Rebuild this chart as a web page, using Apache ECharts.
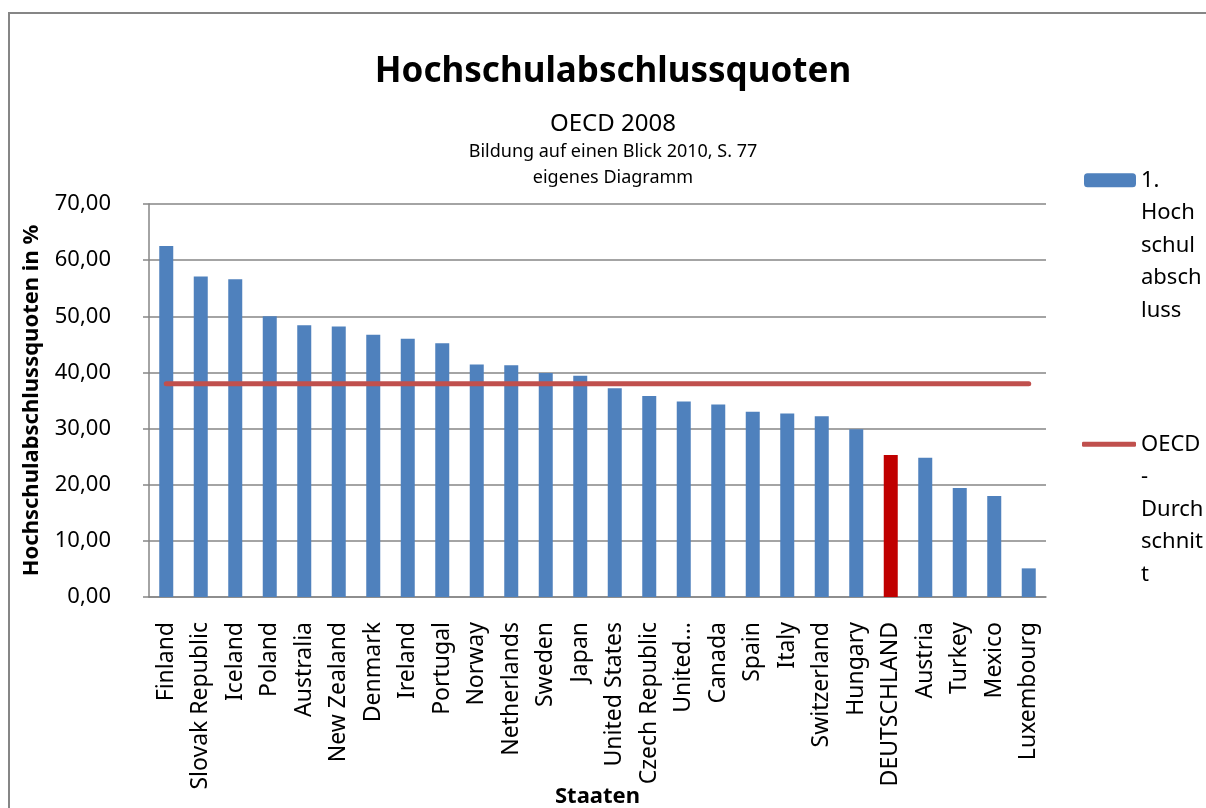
<!DOCTYPE html>
<html>
<head>
<meta charset="utf-8">
<script src="https://cdn.jsdelivr.net/npm/echarts@6/dist/echarts.min.js"></script>
<style>
  body { margin: 0; background: #fff; }
  #chart { position: absolute; left: 0; top: 0; width: 1206px; height: 808px; }
  #frame {
    position: absolute; left: 8px; top: 12px; width: 1198px; height: 796px;
    border-left: 2px solid #868686; border-top: 2px solid #868686;
    box-sizing: border-box; pointer-events: none;
  }
</style>
</head>
<body>
<div id="chart"></div>
<div id="frame"></div>
<script>
const countries = [
  'Finland', 'Slovak Republic', 'Iceland', 'Poland', 'Australia', 'New Zealand',
  'Denmark', 'Ireland', 'Portugal', 'Norway', 'Netherlands', 'Sweden', 'Japan',
  'United States', 'Czech Republic', 'United...', 'Canada', 'Spain', 'Italy',
  'Switzerland', 'Hungary', 'DEUTSCHLAND', 'Austria', 'Turkey', 'Mexico', 'Luxembourg'
]
const quoten = [
  62.5, 57.1, 56.6, 50.0, 48.4, 48.2,
  46.7, 46.0, 45.2, 41.4, 41.3, 39.9, 39.4,
  37.2, 35.8, 34.8, 34.3, 33.0, 32.7,
  32.2, 29.9, 25.3, 24.8, 19.4, 18.0, 5.1
]
const oecdMittel = 38.0
const highlight = 'DEUTSCHLAND'

const font = 'Noto Sans'
const grey = '#868686'

const chart = echarts.init(document.getElementById('chart'))

const barData = quoten.map((v, i) => {
  if (countries[i] === highlight) {
    return { value: v, itemStyle: { color: '#C00000' } }
  }
  return v
})
const lineData = countries.map(() => oecdMittel)

// titel mittig bei x=613 wie im excel-diagramm
const titleX = 613

const options = {
  backgroundColor: '#fff',
  animation: false,
  title: [
    {
      text: 'Hochschulabschlussquoten',
      left: titleX, top: 55, padding: 0, textAlign: 'center',
      textStyle: { fontFamily: font, fontSize: 35, fontWeight: 'bold', color: '#000' }
    },
    {
      text: 'OECD 2008',
      left: titleX, top: 112, padding: 0, textAlign: 'center',
      textStyle: { fontFamily: font, fontSize: 24, fontWeight: 'normal', color: '#000' }
    },
    {
      text: 'Bildung auf einen Blick 2010, S. 77',
      left: titleX, top: 143, padding: 0, textAlign: 'center',
      textStyle: { fontFamily: font, fontSize: 18, fontWeight: 'normal', color: '#000' }
    },
    {
      text: 'eigenes Diagramm',
      left: titleX, top: 169, padding: 0, textAlign: 'center',
      textStyle: { fontFamily: font, fontSize: 18, fontWeight: 'normal', color: '#000' }
    }
  ],
  legend: [
    {
      data: ['1. Hochschulabschluss'],
      left: 1084, top: 34, padding: 0,
      itemWidth: 52, itemHeight: 14, selectedMode: false,
      formatter: () => '\n\n\n\n1.\nHoch\nschul\nabsch\nluss',
      textStyle: { fontFamily: font, fontSize: 22, lineHeight: 32.5, color: '#000' }
    },
    {
      data: [{ name: 'OECD-Durchschnitt', icon: 'roundRect' }],
      left: 1082, top: 298, padding: 0,
      itemWidth: 54, itemHeight: 5, selectedMode: false,
      formatter: () => '\n\n\n\nOECD\n-\nDurch\nschnit\nt',
      textStyle: { fontFamily: font, fontSize: 22, lineHeight: 32.5, color: '#000' }
    }
  ],
  grid: {
    left: 149,
    right: 160,
    top: 204,
    bottom: 211,
    outerBoundsMode: 'none'
  },
  xAxis: {
    type: 'category',
    data: countries,
    name: 'Staaten',
    nameLocation: 'middle',
    nameGap: 189,
    nameMoveOverlap: false,
    nameTextStyle: { fontFamily: font, fontSize: 22, fontWeight: 'bold', color: '#000' },
    axisLine: { lineStyle: { color: grey, width: 1.5 } },
    axisTick: { alignWithLabel: false, length: 7, lineStyle: { color: grey, width: 1.5 } },
    axisLabel: {
      interval: 0,
      rotate: 90,
      margin: 25,
      fontFamily: font,
      fontSize: 23,
      color: '#000'
    }
  },
  yAxis: {
    type: 'value',
    min: 0,
    max: 70,
    interval: 10,
    name: 'Hochschulabschlussquoten in %',
    nameLocation: 'middle',
    nameGap: 106,
    nameMoveOverlap: false,
    nameTextStyle: { fontFamily: font, fontSize: 22, fontWeight: 'bold', color: '#000' },
    axisLine: { show: true, lineStyle: { color: grey, width: 1.5 } },
    axisTick: { show: true, length: 6, lineStyle: { color: grey, width: 1.5 } },
    splitLine: { lineStyle: { color: grey, width: 1.5 } },
    axisLabel: {
      margin: 38,
      fontFamily: font,
      fontSize: 22,
      color: '#000',
      formatter: v => v.toFixed(2).replace('.', ',')
    }
  },
  series: [
    {
      name: '1. Hochschulabschluss',
      type: 'bar',
      data: barData,
      barWidth: 14,
      itemStyle: { color: '#4F81BD' }
    },
    {
      name: 'OECD-Durchschnitt',
      type: 'line',
      data: lineData,
      symbol: 'none',
      showSymbol: false,
      lineStyle: { color: '#C0504D', width: 5, cap: 'round' },
      itemStyle: { color: '#C0504D' }
    }
  ]
}
chart.setOption(options)
</script>
</body>
</html>
